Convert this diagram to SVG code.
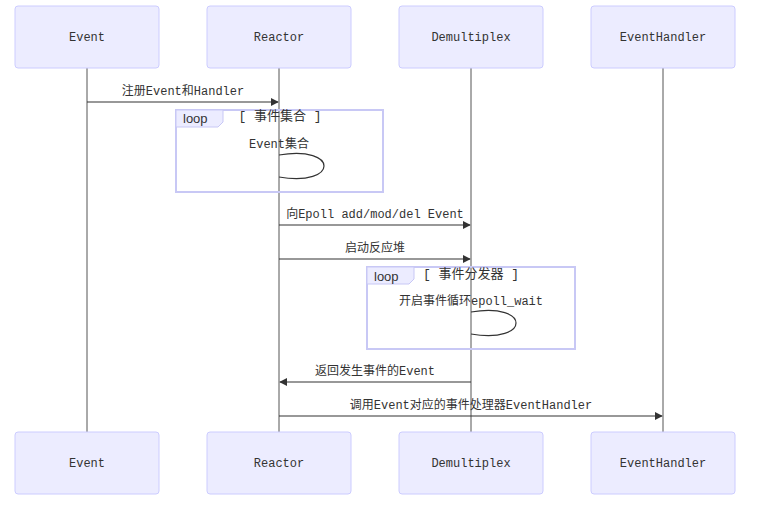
<svg xmlns="http://www.w3.org/2000/svg" width="781" height="510" viewBox="0 0 781 510">
<style>
.actor{fill:#ECECFF;stroke:#CCCCFF;stroke-width:1}
.atext{font-family:"Liberation Mono","Noto Sans CJK SC",monospace;font-size:12px;fill:#333;text-anchor:middle;dominant-baseline:central}
.life{stroke:#555;stroke-width:1}
.msg{stroke:#333;stroke-width:1.2;fill:none}
.mtext{font-family:"Liberation Mono","Noto Sans CJK SC",monospace;font-size:12px;fill:#333;text-anchor:middle}
.loopbox{fill:none;stroke:#C8C8F5;stroke-width:2}
.looplabel{fill:#ECECFF;stroke:#C8C8F5;stroke-width:1}
.ltext{font-family:"Liberation Sans",sans-serif;font-size:13px;fill:#333}
.ctext{font-family:"Liberation Mono","Noto Sans CJK SC",monospace;font-size:13px;fill:#333;text-anchor:middle}
</style>
<defs>
<marker id="arrow" viewBox="0 0 10 10" refX="9" refY="5" markerWidth="8" markerHeight="8" orient="auto" markerUnits="userSpaceOnUse">
<path d="M0,0 L10,5 L0,10 z" fill="#333"/>
</marker>
</defs>
<rect width="781" height="510" fill="#fff"/>
<g id="lifelines">
<line class="life" x1="87" y1="68" x2="87" y2="432"/>
<line class="life" x1="279" y1="68" x2="279" y2="432"/>
<line class="life" x1="471" y1="68" x2="471" y2="432"/>
<line class="life" x1="663" y1="68" x2="663" y2="432"/>
</g>
<g id="actor-Event-top"><rect class="actor" x="15" y="6" width="144" height="62" rx="3"/><text class="atext" x="87" y="38">Event</text></g>
<g id="actor-Reactor-top"><rect class="actor" x="207" y="6" width="144" height="62" rx="3"/><text class="atext" x="279" y="38">Reactor</text></g>
<g id="actor-Demultiplex-top"><rect class="actor" x="399" y="6" width="144" height="62" rx="3"/><text class="atext" x="471" y="38">Demultiplex</text></g>
<g id="actor-EventHandler-top"><rect class="actor" x="591" y="6" width="144" height="62" rx="3"/><text class="atext" x="663" y="38">EventHandler</text></g>
<g id="actor-Event-bottom"><rect class="actor" x="15" y="432" width="144" height="62" rx="3"/><text class="atext" x="87" y="464">Event</text></g>
<g id="actor-Reactor-bottom"><rect class="actor" x="207" y="432" width="144" height="62" rx="3"/><text class="atext" x="279" y="464">Reactor</text></g>
<g id="actor-Demultiplex-bottom"><rect class="actor" x="399" y="432" width="144" height="62" rx="3"/><text class="atext" x="471" y="464">Demultiplex</text></g>
<g id="actor-EventHandler-bottom"><rect class="actor" x="591" y="432" width="144" height="62" rx="3"/><text class="atext" x="663" y="464">EventHandler</text></g>
<g id="loop1">
<rect class="loopbox" x="176" y="110" width="207" height="82"/>
<path class="looplabel" d="M176,110 L223,110 L223,122 L218,127 L176,127 z"/>
<text class="ltext" x="183" y="123">loop</text>
<text class="ctext" x="280" y="120">[ 事件集合 ]</text>
</g>
<g id="loop2">
<rect class="loopbox" x="367" y="267" width="208" height="82"/>
<path class="looplabel" d="M367,267 L414,267 L414,279 L409,284 L367,284 z"/>
<text class="ltext" x="374" y="281">loop</text>
<text class="ctext" x="471" y="278">[ 事件分发器 ]</text>
</g>
<g id="connectors">
<line class="msg" x1="87" y1="102" x2="278" y2="102" marker-end="url(#arrow)"/>
<text class="mtext" x="183" y="95">注册Event和Handler</text>
<path class="msg" d="M279,155 C339,145 339,187 279,177"/>
<text class="mtext" x="279" y="148">Event集合</text>
<line class="msg" x1="279" y1="225" x2="470" y2="225" marker-end="url(#arrow)"/>
<text class="mtext" x="375" y="218">向Epoll add/mod/del Event</text>
<line class="msg" x1="279" y1="259" x2="470" y2="259" marker-end="url(#arrow)"/>
<text class="mtext" x="375" y="252">启动反应堆</text>
<path class="msg" d="M471,312 C531,302 531,344 471,334"/>
<text class="mtext" x="471" y="305">开启事件循环epoll_wait</text>
<line class="msg" x1="471" y1="382" x2="280" y2="382" marker-end="url(#arrow)"/>
<text class="mtext" x="375" y="375">返回发生事件的Event</text>
<line class="msg" x1="279" y1="416" x2="662" y2="416" marker-end="url(#arrow)"/>
<text class="mtext" x="471" y="409">调用Event对应的事件处理器EventHandler</text>
</g>
</svg>
